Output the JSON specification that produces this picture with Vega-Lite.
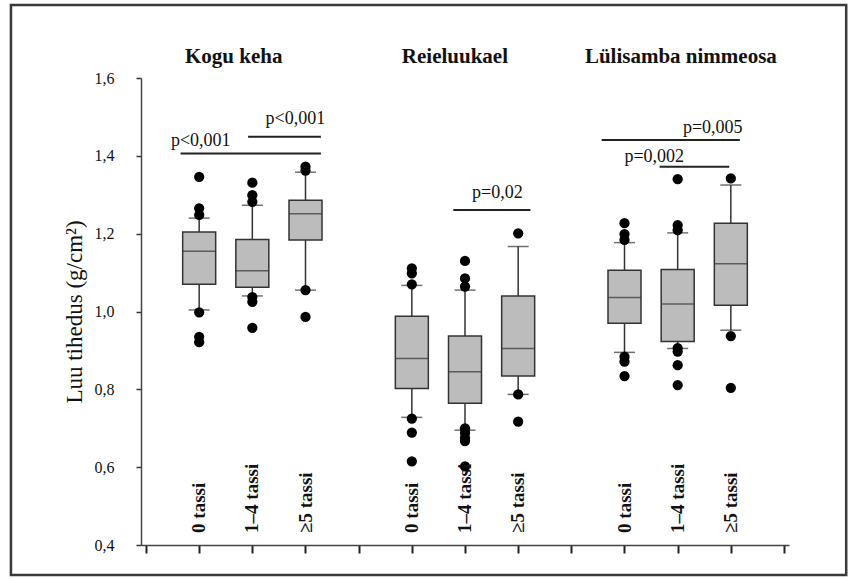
{
  "$schema": "https://vega.github.io/schema/vega-lite/v6.json",
  "width": 648,
  "height": 467,
  "autosize": {"type": "none"},
  "padding": {"left": 141, "top": 78, "right": 67, "bottom": 34},
  "background": "white",
  "config": {
    "view": {"stroke": null},
    "font": "Liberation Serif",
    "axis": {"labelFont": "Liberation Serif", "titleFont": "Liberation Serif"},
    "axisY": {"labelExpr": "replace(format(datum.value, '.1f'), '.', ',')", "titleFont": "Liberation Serif", "titleFontSize": 23, "titleFontWeight": "normal", "titleColor": "#111", "titlePadding": 8, "labelFont": "Liberation Serif", "labelFontSize": 16, "labelColor": "#111", "labelPadding": 22, "tickSize": 5, "tickColor": "#333", "tickWidth": 1.5, "domainColor": "#444", "domainWidth": 1.5, "grid": false}
  },
  "datasets": {
    "boxes": [
      {"group": "Kogu keha", "cat": "0 tassi", "pos": 1, "lo": 1.004, "q1": 1.070, "median": 1.155, "q3": 1.204, "hi": 1.240},
      {"group": "Kogu keha", "cat": "1–4 tassi", "pos": 2, "lo": 1.040, "q1": 1.062, "median": 1.105, "q3": 1.185, "hi": 1.273},
      {"group": "Kogu keha", "cat": "≥5 tassi", "pos": 3, "lo": 1.055, "q1": 1.184, "median": 1.251, "q3": 1.286, "hi": 1.358},
      {"group": "Reieluukael", "cat": "0 tassi", "pos": 5, "lo": 0.728, "q1": 0.802, "median": 0.879, "q3": 0.988, "hi": 1.067},
      {"group": "Reieluukael", "cat": "1–4 tassi", "pos": 6, "lo": 0.695, "q1": 0.764, "median": 0.845, "q3": 0.937, "hi": 1.055},
      {"group": "Reieluukael", "cat": "≥5 tassi", "pos": 7, "lo": 0.787, "q1": 0.834, "median": 0.905, "q3": 1.040, "hi": 1.167},
      {"group": "Lülisamba nimmeosa", "cat": "0 tassi", "pos": 9, "lo": 0.895, "q1": 0.970, "median": 1.036, "q3": 1.106, "hi": 1.177},
      {"group": "Lülisamba nimmeosa", "cat": "1–4 tassi", "pos": 10, "lo": 0.905, "q1": 0.923, "median": 1.019, "q3": 1.108, "hi": 1.202},
      {"group": "Lülisamba nimmeosa", "cat": "≥5 tassi", "pos": 11, "lo": 0.952, "q1": 1.016, "median": 1.123, "q3": 1.227, "hi": 1.325}
    ],
    "outliers": [
      {"pos": 1, "value": 1.346}, {"pos": 1, "value": 1.265}, {"pos": 1, "value": 1.248}, {"pos": 1, "value": 0.998}, {"pos": 1, "value": 0.935}, {"pos": 1, "value": 0.921},
      {"pos": 2, "value": 1.331}, {"pos": 2, "value": 1.299}, {"pos": 2, "value": 1.282}, {"pos": 2, "value": 1.037}, {"pos": 2, "value": 1.025}, {"pos": 2, "value": 0.958},
      {"pos": 3, "value": 1.372}, {"pos": 3, "value": 1.362}, {"pos": 3, "value": 1.055}, {"pos": 3, "value": 0.986},
      {"pos": 5, "value": 1.111}, {"pos": 5, "value": 1.098}, {"pos": 5, "value": 1.070}, {"pos": 5, "value": 0.725}, {"pos": 5, "value": 0.689}, {"pos": 5, "value": 0.615},
      {"pos": 6, "value": 1.130}, {"pos": 6, "value": 1.085}, {"pos": 6, "value": 1.064}, {"pos": 6, "value": 0.700}, {"pos": 6, "value": 0.688}, {"pos": 6, "value": 0.675}, {"pos": 6, "value": 0.667}, {"pos": 6, "value": 0.602},
      {"pos": 7, "value": 1.201}, {"pos": 7, "value": 0.787}, {"pos": 7, "value": 0.717},
      {"pos": 9, "value": 1.227}, {"pos": 9, "value": 1.199}, {"pos": 9, "value": 1.184}, {"pos": 9, "value": 0.884}, {"pos": 9, "value": 0.871}, {"pos": 9, "value": 0.834},
      {"pos": 10, "value": 1.340}, {"pos": 10, "value": 1.222}, {"pos": 10, "value": 1.209}, {"pos": 10, "value": 0.906}, {"pos": 10, "value": 0.897}, {"pos": 10, "value": 0.862}, {"pos": 10, "value": 0.811},
      {"pos": 11, "value": 1.342}, {"pos": 11, "value": 0.937}, {"pos": 11, "value": 0.804}
    ],
    "sigLines": [
      {"pos": 0.65, "pos2": 3.29, "level": 1.406},
      {"pos": 1.92, "pos2": 3.29, "level": 1.449},
      {"pos": 5.78, "pos2": 7.23, "level": 1.261},
      {"pos": 8.57, "pos2": 11.17, "level": 1.441},
      {"pos": 9.66, "pos2": 10.97, "level": 1.372}
    ],
    "sigLabels": [
      {"label": "p<0,001", "pos": 1.03, "ly": 1.437},
      {"label": "p<0,001", "pos": 2.81, "ly": 1.494},
      {"label": "p=0,02", "pos": 6.61, "ly": 1.304},
      {"label": "p=0,005", "pos": 10.66, "ly": 1.471},
      {"label": "p=0,002", "pos": 9.56, "ly": 1.396}
    ],
    "titles": [
      {"title": "Kogu keha", "pos": 1.65},
      {"title": "Reieluukael", "pos": 5.81},
      {"title": "Lülisamba nimmeosa", "pos": 10.06}
    ],
    "frame": [{"pos": -2.54, "pos2": 13.17, "top": 1.7875, "bottom": 0.323}]
  },
  "encoding": {
    "x": {
      "field": "pos", "type": "quantitative",
      "scale": {"domain": [0, 12], "nice": false, "zero": false},
      "title": null,
      "axis": {"values": [0, 1, 2, 3, 4, 5, 6, 7, 8, 9, 10, 11, 12], "labels": false, "tickSize": 8, "tickColor": "#222", "tickWidth": 2, "domainColor": "#444", "domainWidth": 1.5, "grid": false}
    }
  },
  "layer": [
    {
      "data": {"name": "frame"},
      "mark": {"type": "rect", "fill": null, "fillOpacity": 0, "stroke": "#3a3a3a", "strokeWidth": 2.5},
      "encoding": {
        "x2": {"field": "pos2"},
        "y": {"field": "top", "type": "quantitative", "scale": {"domain": [0.4, 1.6], "nice": false, "zero": false}, "title": "Luu tihedus (g/cm²)", "axis": {"values": [0.4, 0.6, 0.8, 1.0, 1.2, 1.4, 1.6]}},
        "y2": {"field": "bottom"}
      }
    },
    {
      "data": {"name": "boxes"},
      "mark": {"type": "rule", "color": "#333", "strokeWidth": 1.5},
      "encoding": {
        "y": {"field": "lo", "type": "quantitative", "title": "Luu tihedus (g/cm²)", "axis": {"values": [0.4, 0.6, 0.8, 1.0, 1.2, 1.4, 1.6]}},
        "y2": {"field": "hi"}
      }
    },
    {
      "data": {"name": "boxes"},
      "mark": {"type": "tick", "orient": "horizontal", "size": 21, "thickness": 1.5, "color": "#333"},
      "encoding": {
        "y": {"field": "lo", "type": "quantitative", "title": "Luu tihedus (g/cm²)"}
      }
    },
    {
      "data": {"name": "boxes"},
      "mark": {"type": "tick", "orient": "horizontal", "size": 21, "thickness": 1.5, "color": "#333"},
      "encoding": {
        "y": {"field": "hi", "type": "quantitative", "title": "Luu tihedus (g/cm²)"}
      }
    },
    {
      "data": {"name": "boxes"},
      "mark": {"type": "bar", "size": 33, "fill": "#bcbcbc", "stroke": "#333", "strokeWidth": 1.5},
      "encoding": {
        "y": {"field": "q1", "type": "quantitative", "title": "Luu tihedus (g/cm²)"},
        "y2": {"field": "q3"}
      }
    },
    {
      "data": {"name": "boxes"},
      "mark": {"type": "tick", "orient": "horizontal", "size": 33, "thickness": 1.5, "color": "#333"},
      "encoding": {
        "y": {"field": "median", "type": "quantitative", "title": "Luu tihedus (g/cm²)"}
      }
    },
    {
      "data": {"name": "outliers"},
      "mark": {"type": "circle", "size": 105, "color": "#000", "opacity": 1},
      "encoding": {
        "y": {"field": "value", "type": "quantitative", "title": "Luu tihedus (g/cm²)"}
      }
    },
    {
      "data": {"name": "sigLines"},
      "mark": {"type": "rule", "color": "#222", "strokeWidth": 2},
      "encoding": {
        "x2": {"field": "pos2"},
        "y": {"field": "level", "type": "quantitative", "title": "Luu tihedus (g/cm²)"}
      }
    },
    {
      "data": {"name": "sigLabels"},
      "mark": {"type": "text", "font": "Liberation Serif", "fontSize": 18, "color": "#111", "baseline": "middle", "align": "center"},
      "encoding": {
        "y": {"field": "ly", "type": "quantitative", "title": "Luu tihedus (g/cm²)"},
        "text": {"field": "label"}
      }
    },
    {
      "data": {"name": "boxes"},
      "mark": {"type": "text", "font": "Liberation Serif", "fontSize": 19, "fontWeight": "bold", "color": "#111", "angle": 270, "align": "left", "baseline": "middle"},
      "encoding": {
        "y": {"datum": 0.431, "type": "quantitative", "title": "Luu tihedus (g/cm²)"},
        "text": {"field": "cat"}
      }
    },
    {
      "data": {"name": "titles"},
      "mark": {"type": "text", "font": "Liberation Serif", "fontSize": 21, "fontWeight": "bold", "color": "#111", "align": "center", "baseline": "middle"},
      "encoding": {
        "y": {"datum": 1.655, "type": "quantitative", "title": "Luu tihedus (g/cm²)"},
        "text": {"field": "title"}
      }
    }
  ]
}
